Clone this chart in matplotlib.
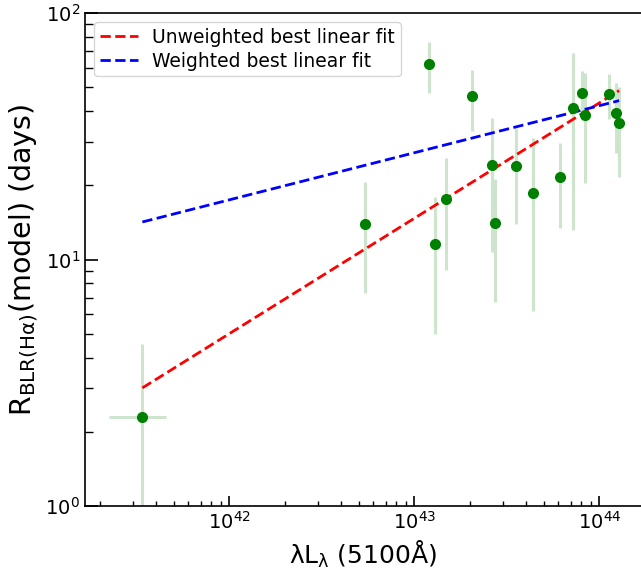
import numpy as np
import matplotlib
matplotlib.use("Agg")
import matplotlib.pyplot as plt

# luminosity lambda*L_lambda(5100A) in erg/s
lum = np.array([3.39e41, 5.42e42, 1.20e43, 1.29e43, 1.48e43, 2.05e43, 2.63e43, 2.73e43,
                3.55e43, 4.38e43, 6.14e43, 7.21e43, 8.07e43, 8.38e43, 1.13e44, 1.23e44, 1.28e44])
lum_err = np.array([1.15e41, 0, 0, 0, 0, 0, 0, 0, 0, 0, 0, 0, 0, 0, 0, 0, 0])
# model BLR radius (days) and its lower / upper bounds
r_blr = np.array([2.30, 13.9, 62.0, 11.6, 17.6, 46.0, 24.2, 14.1,
                  23.9, 18.6, 21.6, 41.2, 47.3, 38.5, 46.9, 39.3, 35.8])
r_lo = np.array([0.3, 7.3, 47.3, 5.0, 9.1, 33.2, 10.7, 6.7,
                 13.9, 6.2, 13.4, 13.2, 36.8, 20.4, 37.2, 27.0, 21.6])
r_hi = np.array([4.54, 20.6, 76.0, 17.9, 25.8, 58.7, 37.5, 21.2,
                 34.1, 31.1, 29.7, 68.9, 58.2, 57.1, 56.6, 52.0, 50.1])

# best fit lines: log R = a + b * (log L - 43)
unw_a, unw_b = 1.167, 0.468
wei_a, wei_b = 1.433, 0.191

fig = plt.figure(figsize=(6.41, 5.70), dpi=100)
ax = fig.add_axes([85 / 641, 64 / 570, 557 / 641, 493 / 570])

ax.errorbar(lum, r_blr, yerr=[r_blr - r_lo, r_hi - r_blr], xerr=lum_err,
            fmt='none', ecolor='g', alpha=0.2, elinewidth=2.2, zorder=1)

xx = np.logspace(np.log10(lum.min()), np.log10(lum.max()), 50)
ax.plot(xx, 10 ** (unw_a + unw_b * (np.log10(xx) - 43)), 'r--', lw=2,
        label='Unweighted best linear fit', zorder=2)
ax.plot(xx, 10 ** (wei_a + wei_b * (np.log10(xx) - 43)), 'b--', lw=2,
        label='Weighted best linear fit', zorder=2)
ax.plot(lum, r_blr, 'o', color='g', ms=7, zorder=3)

ax.set_xscale('log')
ax.set_yscale('log')
ax.set_xlim(10 ** 41.22, 10 ** 44.231)
ax.set_ylim(1, 100)

ax.set_xlabel(r'$\mathrm{\lambda}$L$_{\mathrm{\lambda}}$ (5100Å)', fontsize=18)
ax.set_ylabel(r'R$_{\mathrm{BLR(H\alpha)}}$(model) (days)', fontsize=20.5)

ax.tick_params(which='both', direction='in', labelsize=14, top=False, right=False)
ax.tick_params(axis='x', which='major', length=7, width=1.2)
ax.tick_params(axis='x', which='minor', length=3.5, width=1)
ax.tick_params(axis='y', which='major', length=9, width=1.2)
ax.tick_params(axis='y', which='minor', length=5.5, width=1)
for s in ax.spines.values():
    s.set_linewidth(1.2)

ax.legend(loc='upper left', fontsize=13.5, labelspacing=0.25, borderpad=0.3)

fig.savefig('out.png', dpi=100)
